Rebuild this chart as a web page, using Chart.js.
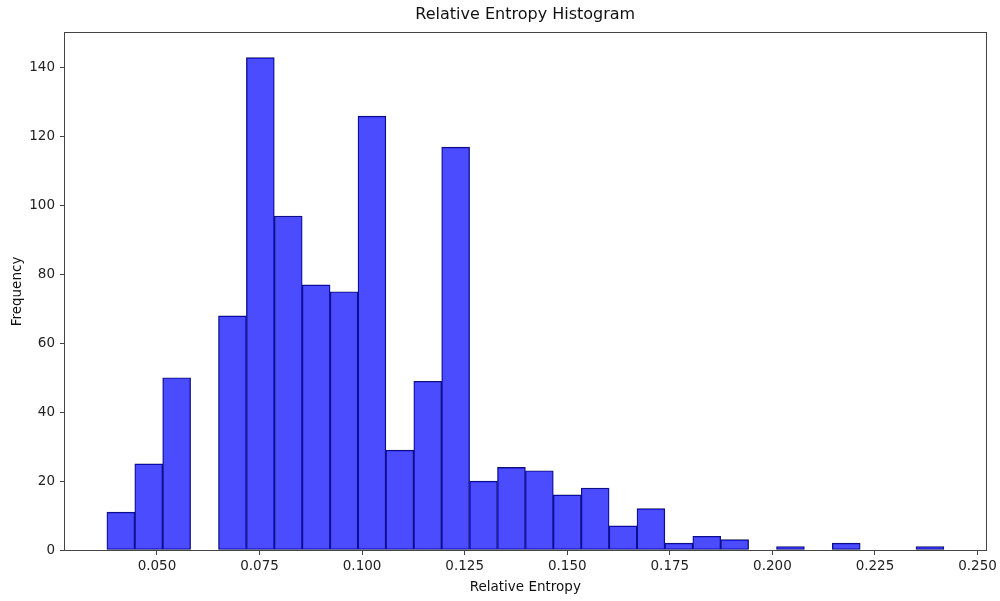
<!DOCTYPE html>
<html>
<head>
<meta charset="utf-8">
<script src="https://cdn.jsdelivr.net/npm/chart.js@4.4.1/dist/chart.umd.min.js"></script>
<style>
  html, body { margin: 0; padding: 0; background: #fff; }
  #c { display: block; }
</style>
</head>
<body>
<canvas id="c" width="1000" height="601"></canvas>
<script>
// Histogram data (30 bins)
const binStart = 0.0378;
const binWidth = 0.0068;
const counts = [11, 25, 50, 0, 68, 143, 97, 77, 75, 126, 29, 49, 117, 20, 24, 23, 16, 18, 7, 12, 2, 4, 3, 0, 1, 0, 2, 0, 0, 1];
const xTicks = [0.050, 0.075, 0.100, 0.125, 0.150, 0.175, 0.200, 0.225, 0.250];
const yTicks = [0, 20, 40, 60, 80, 100, 120, 140];
const xRange = [0.02759, 0.25195];
const yRange = [0, 150.15];
const titleText = 'Relative Entropy Histogram';

const points = counts.map((c, i) => ({ x: binStart + binWidth * (i + 0.5), y: c }));

const frame = {
  id: 'frame',
  afterDatasetsDraw(chart) {
    const a = chart.chartArea, ctx = chart.ctx;
    ctx.save();
    ctx.strokeStyle = '#444';
    ctx.lineWidth = 1;
    ctx.strokeRect(Math.round(a.left) - 0.5, Math.round(a.top) - 0.5, Math.round(a.right - a.left) + 1, Math.round(a.bottom - a.top) + 1);
    ctx.fillStyle = '#111';
    ctx.font = '16px "DejaVu Sans"';
    ctx.textAlign = 'center';
    ctx.textBaseline = 'middle';
    ctx.fillText(titleText, (a.left + a.right) / 2, 15);
    ctx.restore();
  }
};

const tickFont = { family: 'DejaVu Sans', size: 13.5 };

new Chart(document.getElementById('c'), {
  type: 'bar',
  data: {
    datasets: [{
      data: points,
      backgroundColor: 'rgba(0,0,255,0.7)',
      borderColor: '#17174d',
      borderWidth: 0.7,
      borderSkipped: false,
      barPercentage: 1.0,
      categoryPercentage: 1.0
    }]
  },
  options: {
    responsive: false,
    devicePixelRatio: 1,
    animation: false,
    layout: { padding: { left: 0, right: 14, top: 33, bottom: 0 } },
    plugins: {
      legend: { display: false },
      tooltip: { enabled: false },
      title: { display: false }
    },
    scales: {
      x: {
        type: 'linear',
        min: xRange[0],
        max: xRange[1],
        offset: false,
        afterBuildTicks(scale) { scale.ticks = xTicks.map(v => ({ value: v })); },
        afterFit(scale) { scale.height = 51; },
        ticks: {
          color: '#222',
          font: tickFont,
          padding: 3,
          maxRotation: 0,
          autoSkip: false,
          callback: v => Number(v).toFixed(3)
        },
        grid: { display: true, offset: false, drawOnChartArea: false, drawTicks: true, tickLength: 5, color: '#444' },
        border: { display: false },
        title: {
          display: true,
          text: 'Relative Entropy',
          color: '#111',
          font: tickFont,
          padding: { top: 0, bottom: 5 }
        }
      },
      y: {
        type: 'linear',
        min: yRange[0],
        max: yRange[1],
        afterBuildTicks(scale) { scale.ticks = yTicks.map(v => ({ value: v })); },
        afterFit(scale) { scale.width = 65; },
        ticks: {
          color: '#222',
          font: tickFont,
          padding: 5,
          autoSkip: false,
          callback: v => String(v)
        },
        grid: { display: true, drawOnChartArea: false, drawTicks: true, tickLength: 5, color: '#444' },
        border: { display: false },
        title: {
          display: true,
          text: 'Frequency',
          color: '#111',
          font: tickFont,
          padding: { top: 9, bottom: 0 }
        }
      }
    }
  },
  plugins: [frame]
});
</script>
</body>
</html>
